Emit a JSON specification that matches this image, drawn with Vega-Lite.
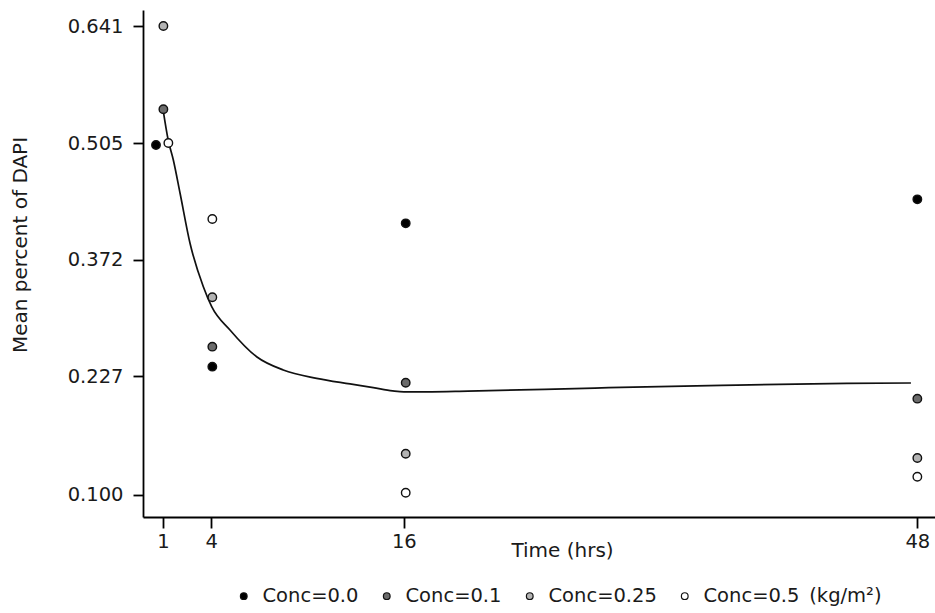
{
  "$schema": "https://vega.github.io/schema/vega-lite/v6.json",
  "width": 792,
  "height": 507,
  "autosize": {"type": "none"},
  "padding": {"left": 143, "top": 10, "right": 0, "bottom": 96},
  "background": "white",
  "config": {
    "view": {"stroke": null},
    "font": "DejaVu Sans",
    "axis": {
      "grid": false,
      "domainColor": "#000000",
      "domainWidth": 1.8,
      "tickColor": "#000000",
      "tickWidth": 1.8,
      "tickSize": 10,
      "labelFont": "DejaVu Sans",
      "labelFontSize": 19.5,
      "labelColor": "#1a1a1a",
      "titleFont": "DejaVu Sans",
      "titleFontSize": 20,
      "titleFontWeight": "normal",
      "titleColor": "#1a1a1a"
    },
    "legend": {
      "labelFont": "DejaVu Sans",
      "labelFontSize": 19.5,
      "labelColor": "#1a1a1a"
    }
  },
  "datasets": {
    "obs": [
      {"time": 0.56, "dapi": 0.5027, "conc": "0.0"},
      {"time": 4.07, "dapi": 0.2386, "conc": "0.0"},
      {"time": 16.12, "dapi": 0.4133, "conc": "0.0"},
      {"time": 48.0, "dapi": 0.4407, "conc": "0.0"},
      {"time": 1.02, "dapi": 0.5442, "conc": "0.1"},
      {"time": 4.07, "dapi": 0.2635, "conc": "0.1"},
      {"time": 16.12, "dapi": 0.2198, "conc": "0.1"},
      {"time": 48.0, "dapi": 0.2027, "conc": "0.1"},
      {"time": 1.02, "dapi": 0.641, "conc": "0.25"},
      {"time": 4.07, "dapi": 0.325, "conc": "0.25"},
      {"time": 16.12, "dapi": 0.1437, "conc": "0.25"},
      {"time": 48.0, "dapi": 0.1391, "conc": "0.25"},
      {"time": 1.33, "dapi": 0.505, "conc": "0.5"},
      {"time": 4.07, "dapi": 0.4182, "conc": "0.5"},
      {"time": 16.12, "dapi": 0.1019, "conc": "0.5"},
      {"time": 48.0, "dapi": 0.119, "conc": "0.5"}
    ],
    "fit": [
      {"time": 1.0, "dapi": 0.544},
      {"time": 1.32, "dapi": 0.5085},
      {"time": 1.64, "dapi": 0.4856},
      {"time": 2.06, "dapi": 0.4476},
      {"time": 2.68, "dapi": 0.3905},
      {"time": 3.51, "dapi": 0.3381},
      {"time": 4.03, "dapi": 0.3133},
      {"time": 5.17, "dapi": 0.2843},
      {"time": 6.83, "dapi": 0.251},
      {"time": 8.49, "dapi": 0.2345},
      {"time": 10.57, "dapi": 0.2245},
      {"time": 12.65, "dapi": 0.2185},
      {"time": 14.1, "dapi": 0.2145},
      {"time": 15.3, "dapi": 0.211},
      {"time": 16.0, "dapi": 0.2099},
      {"time": 20.0, "dapi": 0.2108},
      {"time": 27.9, "dapi": 0.2141},
      {"time": 35.8, "dapi": 0.217},
      {"time": 43.6, "dapi": 0.2192},
      {"time": 47.6, "dapi": 0.2195}
    ]
  },
  "layer": [
    {
      "data": {"name": "fit"},
      "mark": {"type": "line", "color": "#111111", "strokeWidth": 1.7, "interpolate": "monotone"},
      "encoding": {
        "x": {
          "field": "time", "type": "quantitative",
          "scale": {"domain": [-0.25, 49.1], "nice": false, "zero": false},
          "axis": {
            "values": [1, 4, 16, 48],
            "tickSize": 11,
            "labelPadding": 4,
            "title": "Time (hrs)",
            "titleX": 419,
            "titleY": 33,
            "titleBaseline": "middle"
          }
        },
        "y": {
          "field": "dapi", "type": "quantitative",
          "scale": {
            "domain": [0.0759, 0.1, 0.227, 0.372, 0.505, 0.641, 0.6596],
            "range": [507, 484.5, 366, 249.5, 133, 16, 0],
            "nice": false, "zero": false
          },
          "axis": {
            "values": [0.1, 0.227, 0.372, 0.505, 0.641],
            "format": ".3f",
            "labelPadding": 10,
            "title": "Mean percent of DAPI",
            "titleX": -123,
            "titleY": 234.5,
            "titleAngle": -90,
            "titleAlign": "center",
            "titleBaseline": "middle"
          }
        }
      }
    },
    {
      "data": {"name": "obs"},
      "mark": {"type": "point", "shape": "circle", "filled": true, "size": 72, "stroke": "#111111", "strokeWidth": 1.4, "opacity": 1},
      "encoding": {
        "x": {"field": "time", "type": "quantitative"},
        "y": {"field": "dapi", "type": "quantitative"},
        "fill": {
          "field": "conc", "type": "nominal",
          "scale": {"domain": ["0.0", "0.1", "0.25", "0.5"], "range": ["#000000", "#6b6b6b", "#b3b3b3", "#ffffff"]},
          "legend": {
            "title": null,
            "orient": "none",
            "direction": "horizontal",
            "columns": 4,
            "legendX": 91,
            "legendY": 576,
            "padding": 0,
            "symbolType": "circle",
            "symbolSize": 45,
            "symbolStrokeColor": "#111111",
            "symbolStrokeWidth": 1.2,
            "symbolOpacity": 1,
            "labelOffset": 9,
            "columnPadding": 18,
            "labelLimit": 400,
            "labelExpr": "'Conc=' + datum.label + (datum.label == '0.5' ? '\u2002(kg/m²)' : '')"
          }
        }
      }
    }
  ]
}
